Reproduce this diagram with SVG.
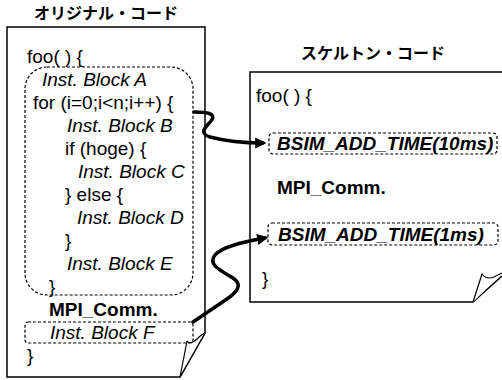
<svg xmlns="http://www.w3.org/2000/svg" width="502" height="380" viewBox="0 0 502 380">
<defs>
<style>
.doc{fill:#fff;stroke:#000;stroke-width:1.5;stroke-linejoin:miter}
.fold{fill:#fff;stroke:#000;stroke-width:1.2;stroke-linejoin:round}
.dash{fill:none;stroke:#000;stroke-width:1.2;stroke-dasharray:3 2}
.t{font-family:"Liberation Sans",Arial,sans-serif;font-size:19px;fill:#000}
.it{font-style:italic}
.b{font-weight:bold}
.title{font-family:"Noto Sans CJK JP","Noto Sans CJK SC",sans-serif;font-size:16px;font-weight:bold;fill:#000;text-anchor:middle}
.conn{fill:none;stroke:#000;stroke-width:3.5;stroke-linecap:round;stroke-linejoin:round}
</style>
<marker id="arr" viewBox="0 0 10 10" refX="7" refY="5" markerWidth="3.2" markerHeight="3.2" orient="auto" markerUnits="strokeWidth">
<path d="M0,0 L10,5 L0,10 Z" fill="#000"/>
</marker>
</defs>
<rect width="502" height="380" fill="#fff"/>

<g id="original-code">
<text class="title" x="106" y="19">オリジナル・コード</text>
<path class="doc" d="M7,27 H205 V333 L180,377 H7 Z"/>
<path class="fold" d="M180,377 L187,341 C189,344 193,343 197,339 C200,336 202,334 205,333 Z"/>
<rect class="dash" x="25" y="67" width="168" height="228" rx="22" ry="22"/>
<rect class="dash" x="25" y="322" width="168" height="21" rx="3" ry="3"/>
<text class="t" x="27" y="63">foo( ) {</text>
<text class="t it" x="42" y="86">Inst. Block A</text>
<text class="t" x="33" y="109">for (i=0;i&lt;n;i++) {</text>
<text class="t it" x="67" y="132">Inst. Block B</text>
<text class="t" x="65" y="155">if (hoge) {</text>
<text class="t it" x="78" y="178">Inst. Block C</text>
<text class="t" x="65" y="201">} else {</text>
<text class="t it" x="77" y="224">Inst. Block D</text>
<text class="t" x="65" y="247">}</text>
<text class="t it" x="67" y="270">Inst. Block E</text>
<text class="t" x="49" y="293">}</text>
<text class="t b" x="49" y="316">MPI_Comm.</text>
<text class="t it" x="50" y="339">Inst. Block F</text>
<text class="t" x="27" y="362">}</text>
</g>

<g id="skeleton-code">
<text class="title" x="373" y="59">スケルトン・コード</text>
<path class="doc" d="M502,72 H250 V302 H473 L502,276"/>
<path class="fold" d="M473,302 L482,274 C485,278 489,279 494,277 C497,275 500,274 502,273"/>
<rect class="dash" x="269" y="133" width="228" height="21" rx="4" ry="4"/>
<rect class="dash" x="268" y="223" width="230" height="22" rx="4" ry="4"/>
<text class="t" x="256" y="102">foo( ) {</text>
<text class="t b it" x="277" y="150">BSIM_ADD_TIME(10ms)</text>
<text class="t b" x="277" y="194">MPI_Comm.</text>
<text class="t b it" x="278" y="241">BSIM_ADD_TIME(1ms)</text>
<text class="t" x="262" y="285">}</text>
</g>

<g id="connectors">
<path class="conn" marker-end="url(#arr)" d="M194,112 C206,112 217,113 211,121 C206,127 198,133 210,137 C225,141 245,143 263,143"/>
<path class="conn" marker-end="url(#arr)" d="M193,322 L224,301 C238,292 243,285 233,278 C222,271 207,265 215,255 C223,246 245,242 265,238"/>
</g>
</svg>
